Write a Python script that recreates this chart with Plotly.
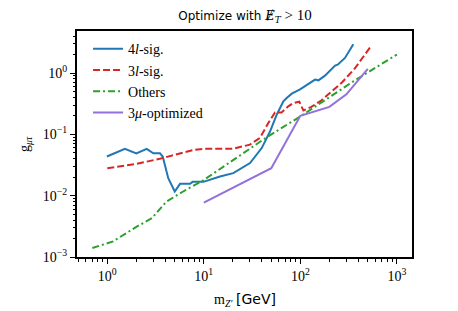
import plotly.graph_objects as go

# ---- data ----
sig4_x = [0.99, 1.52, 2.0, 2.56, 3.0, 3.51, 3.75, 4.28, 5.0, 5.67, 7.2, 7.66, 9.9, 14.7, 20.2, 30.1, 39.8, 48.5, 56.9, 66.7, 72.2, 81.5, 99.3, 111, 142, 154, 180, 229, 244, 290, 354]
sig4_y = [0.0435, 0.058, 0.0487, 0.058, 0.049, 0.049, 0.0435, 0.0193, 0.0117, 0.0156, 0.0156, 0.0168, 0.0168, 0.0205, 0.0233, 0.034, 0.0597, 0.111, 0.209, 0.345, 0.392, 0.46, 0.54, 0.606, 0.78, 0.76, 0.906, 1.32, 1.37, 1.76, 2.95]

sig3_x = [1.0, 2.0, 3.5, 6.0, 8.0, 10.0, 20.0, 30.0, 38.0, 46.6, 54.6, 63.9, 75.0, 84.5, 97.6, 107.6, 130, 166, 270, 369, 549]
sig3_y = [0.028, 0.033, 0.040, 0.049, 0.056, 0.058, 0.058, 0.068, 0.087, 0.153, 0.228, 0.228, 0.286, 0.325, 0.34, 0.245, 0.28, 0.36, 0.70, 1.2, 2.85]

oth_x = [0.7, 1.15, 2.0, 2.9, 4.1, 6.1, 10.0, 24.0, 45.0, 100.0, 354.0, 1000.0]
oth_y = [0.0014, 0.0018, 0.0031, 0.0043, 0.008, 0.0117, 0.018, 0.0465, 0.09, 0.196, 0.73, 2.0]

mu3_x = [10.0, 50.0, 100.0, 200.0, 300.0, 500.0]
mu3_y = [0.0077, 0.028, 0.2, 0.28, 0.45, 1.17]

names = ["4<i>l</i>-sig.", "3<i>l</i>-sig.", "Others", "3<i>μ</i>-optimized"]
colors = ["#1f77b4", "#d62728", "#2ca02c", "#9370db"]
dashes = ["solid", "7px,3px", "7px,3px,2px,3px", "solid"]

x_tickvals = [1, 10, 100, 1000]
x_ticktext = ["10<sup>0</sup>", "10<sup>1</sup>", "10<sup>2</sup>", "10<sup>3</sup>"]
y_tickvals = [0.001, 0.01, 0.1, 1]
y_ticktext = ["10<sup>−3</sup>", "10<sup>−2</sup>", "10<sup>−1</sup>", "10<sup>0</sup>"]

SERIF = "Liberation Serif, Times New Roman, serif"
SANS = "DejaVu Sans, sans-serif"

fig = go.Figure()
for xs, ys, nm, c, d in zip([sig4_x, sig3_x, oth_x, mu3_x], [sig4_y, sig3_y, oth_y, mu3_y], names, colors, dashes):
    fig.add_trace(go.Scatter(x=xs, y=ys, name=nm, mode="lines",
                             line=dict(color=c, width=2, dash=d)))

minor_x = [m * 10 ** e for e in range(-1, 4) for m in range(2, 10)]
minor_y = [m * 10 ** e for e in range(-3, 1) for m in range(2, 10)]

axis_common = dict(showgrid=False, zeroline=False, showline=True, linecolor="black",
                   linewidth=2, mirror=True, ticks="outside", ticklen=5, tickwidth=1.2,
                   tickcolor="black", tickfont=dict(family=SERIF, size=14, color="black"))

fig.update_xaxes(type="log", range=[-0.314, 3.157], tickmode="array",
                 tickvals=x_tickvals, ticktext=x_ticktext,
                 minor=dict(tickmode="array", tickvals=minor_x, ticks="outside",
                            ticklen=2.5, tickwidth=1, tickcolor="black"),
                 **axis_common)
fig.update_yaxes(type="log", range=[-3, 0.685], tickmode="array",
                 tickvals=y_tickvals, ticktext=y_ticktext,
                 minor=dict(tickmode="array", tickvals=minor_y, ticks="outside",
                            ticklen=2.5, tickwidth=1, tickcolor="black"),
                 **axis_common)

title_text = ("Optimize with <span style=\"font-family:DejaVu Serif;font-size:13px\"><i>Ɇ</i>"
              "<sub><i>T</i></sub></span><span style=\"font-family:Liberation Serif;font-size:15px\"> > 10</span>")

fig.update_layout(
    width=458, height=311, autosize=False,
    margin=dict(l=77, r=46, t=31, b=54, pad=0),
    plot_bgcolor="white", paper_bgcolor="white",
    title=dict(text=title_text,
               x=0.5015, xref="paper", xanchor="center", y=0.948, yanchor="middle",
               font=dict(family=SANS, size=12, color="black")),
    legend=dict(x=0.033, y=0.99, xanchor="left", yanchor="top",
                bgcolor="rgba(0,0,0,0)", borderwidth=0,
                font=dict(family=SERIF, size=14, color="black")),
    annotations=[
        dict(text="m<sub><i>Z′</i></sub> <span style=\"font-family:DejaVu Sans\">[GeV]</span>",
             xref="paper", yref="paper", x=0.5, y=-0.19, xanchor="center", yanchor="middle",
             showarrow=False, font=dict(family=SERIF, size=14, color="black")),
        dict(text="g<sub><i>μτ</i></sub>", xref="paper", yref="paper", x=-0.155, y=0.5,
             xanchor="center", yanchor="middle", textangle=-90, showarrow=False,
             font=dict(family=SERIF, size=14, color="black")),
    ],
)

fig.write_html("out.html", config={"displayModeBar": False},
               post_script="document.body.style.margin='0';document.body.style.overflow='hidden';")
